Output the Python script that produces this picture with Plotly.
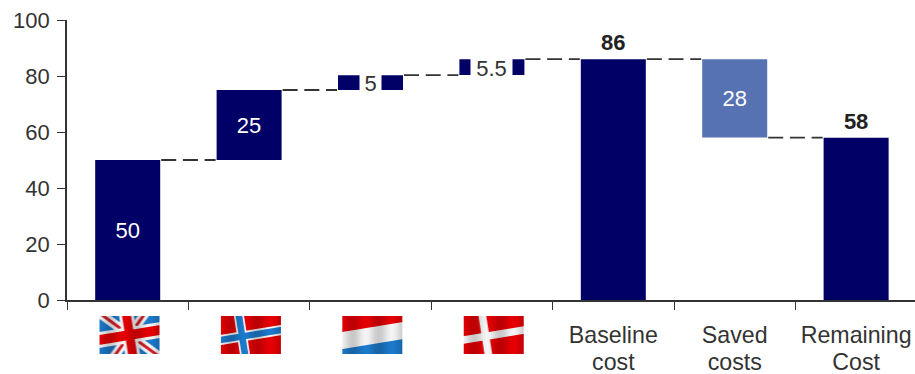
import base64, struct, zlib
import numpy as np
import plotly.graph_objects as go

categories = ["UK", "Norway", "Luxembourg", "Denmark", "Baseline cost", "Saved costs", "Remaining Cost"]
tick_lines = [None, None, None, None, ("Baseline", "cost"), ("Saved", "costs"), ("Remaining", "Cost")]
values = [50, 25, 5.3, 5.7, 86, -28, 58]
measures = ["relative", "relative", "relative", "relative", "total", "relative", "total"]
labels = ["50", "25", "", "", "<b>86</b>", "28", "<b>58</b>"]
label_positions = ["inside", "inside", "inside", "inside", "outside", "inside", "outside"]
label_colors = ["white", "white", "white", "white", "#222222", "white", "#222222"]
gapped_labels = ["5", "5.5"]
gapped_centres = [77.5, 83]
gapped_widths = [21, 41]
flag_names = ["uk", "norway", "lux", "denmark"]

NAVY = "#000066"
STEEL = "#5672b2"
INK = "#333333"
FONT = "Liberation Sans, Arial, sans-serif"

RED = np.array([225, 0, 5.0])
BLUE = np.array([28, 120, 200.0])
WHITE = np.array([240, 240, 240.0])

tick_labels = ["" if t is None else "<br>".join(f'<span style="font-size:23.2px">{s}</span>' for s in t)
               for t in tick_lines]


def flag_png(name, w=60, h=38, ss=4):
    ys, xs = np.mgrid[0:h * ss, 0:w * ss]
    u = (xs + 0.5) / (w * ss)
    v = (ys + 0.5) / (h * ss)
    img = np.zeros((h * ss, w * ss, 3))
    # the cloth rises to the right and leans slightly
    vv = v + 0.26 * (u - 0.5)
    uu = u - 0.10 * (v - 0.5)

    def paint(mask, col):
        img[mask] = col

    if name == "uk":
        paint(np.ones_like(u, bool), BLUE)
        d1 = np.abs((vv - 0.5) * 0.63 - (uu - 0.5))
        d2 = np.abs((vv - 0.5) * 0.63 + (uu - 0.5))
        paint((d1 < 0.11) | (d2 < 0.11), WHITE)
        paint((d1 < 0.035) | (d2 < 0.035), np.array([205, 30, 40.0]))
        paint((np.abs(uu - 0.5) < 0.125) | (np.abs(vv - 0.5) < 0.21), WHITE)
        paint((np.abs(uu - 0.5) < 0.075) | (np.abs(vv - 0.5) < 0.13), RED)
    elif name == "norway":
        paint(np.ones_like(u, bool), RED)
        paint((np.abs(uu - 0.35) < 0.085) | (np.abs(vv - 0.5) < 0.135), WHITE)
        paint((np.abs(uu - 0.35) < 0.055) | (np.abs(vv - 0.5) < 0.085), BLUE)
    elif name == "lux":
        paint(np.ones_like(u, bool), WHITE)
        paint(vv < 0.29, RED)
        paint(vv > 0.74, BLUE)
    elif name == "denmark":
        paint(np.ones_like(u, bool), RED)
        paint((np.abs(uu - 0.36) < 0.065) | (np.abs(vv - 0.5) < 0.10), WHITE)

    shade = 0.93 + 0.09 * np.cos(2 * np.pi * (u * 2.3 + 0.1))
    img = np.clip(img * shade[..., None], 0, 255)
    img = img.reshape(h, ss, w, ss, 3).mean(axis=(1, 3)).astype(np.uint8)
    raw = b"".join(b"\x00" + img[r].tobytes() for r in range(h))

    def chunk(tag, data):
        return (struct.pack(">I", len(data)) + tag + data
                + struct.pack(">I", zlib.crc32(tag + data) & 0xFFFFFFFF))

    png = (b"\x89PNG\r\n\x1a\n"
           + chunk(b"IHDR", struct.pack(">IIBBBBB", w, h, 8, 2, 0, 0, 0))
           + chunk(b"IDAT", zlib.compress(raw))
           + chunk(b"IEND", b""))
    return "data:image/png;base64," + base64.b64encode(png).decode()


fig = go.Figure(go.Waterfall(
    x=categories,
    y=values,
    measure=measures,
    text=labels,
    textposition=label_positions,
    insidetextanchor="middle",
    textangle=0,
    constraintext="none",
    cliponaxis=False,
    textfont=dict(family=FONT, size=22, color=label_colors),
    width=0.552,
    increasing=dict(marker=dict(color=NAVY, line=dict(width=2, color="white"))),
    totals=dict(marker=dict(color=NAVY, line=dict(width=2, color="white"))),
    decreasing=dict(marker=dict(color=STEEL, line=dict(width=2, color="white"))),
    connector=dict(mode="between", line=dict(color=INK, width=1.8, dash="15px,6.7px")),
    hoverinfo="skip",
))

# labels that interrupt the thin bars
for cat, txt, yc, wd in zip(categories[2:4], gapped_labels, gapped_centres, gapped_widths):
    fig.add_annotation(x=cat, y=yc, text=txt, showarrow=False, bgcolor="white",
                       width=wd, height=22, align="center",
                       font=dict(family=FONT, size=22, color=INK), borderpad=0)

# flags in the category-label row
X_SPAN = 6.985
for i, name in enumerate(flag_names):
    fig.add_layout_image(
        source=flag_png(name), xref="paper", yref="paper",
        x=(i + 0.5 + 0.015) / X_SPAN, y=-16 / 280, sizex=60 / 848, sizey=38 / 280,
        xanchor="center", yanchor="top", sizing="stretch", layer="above",
    )

fig.update_layout(
    width=915, height=374,
    margin=dict(l=67, r=0, t=20, b=74, autoexpand=False),
    plot_bgcolor="white", paper_bgcolor="white",
    showlegend=False,
    font=dict(family=FONT, size=22, color=INK),
    xaxis=dict(
        type="category", categoryorder="array", categoryarray=categories,
        tickmode="array", tickvals=categories, ticktext=tick_labels,
        tickson="boundaries", range=[-0.5, -0.5 + X_SPAN],
        ticks="outside", ticklen=8, tickwidth=1.4, tickcolor=INK,
        showline=True, linecolor=INK, linewidth=1.8, showgrid=False, zeroline=False,
        tickfont=dict(family=FONT, size=21.4, color=INK), tickangle=0,
        ticklabelstandoff=15, ticklabeloverflow="allow",
    ),
    yaxis=dict(
        range=[0, 100], tickmode="array", tickvals=[0, 20, 40, 60, 80, 100],
        ticks="outside", ticklen=8, tickwidth=1.4, tickcolor=INK,
        showline=True, linecolor=INK, linewidth=1.8, showgrid=False, zeroline=False,
        tickfont=dict(family=FONT, size=22, color=INK), ticklabelstandoff=3,
        ticklabeloverflow="allow",
    ),
)

fig.write_html("out.html", post_script="document.body.style.margin='0';",
               config={"displayModeBar": False})
